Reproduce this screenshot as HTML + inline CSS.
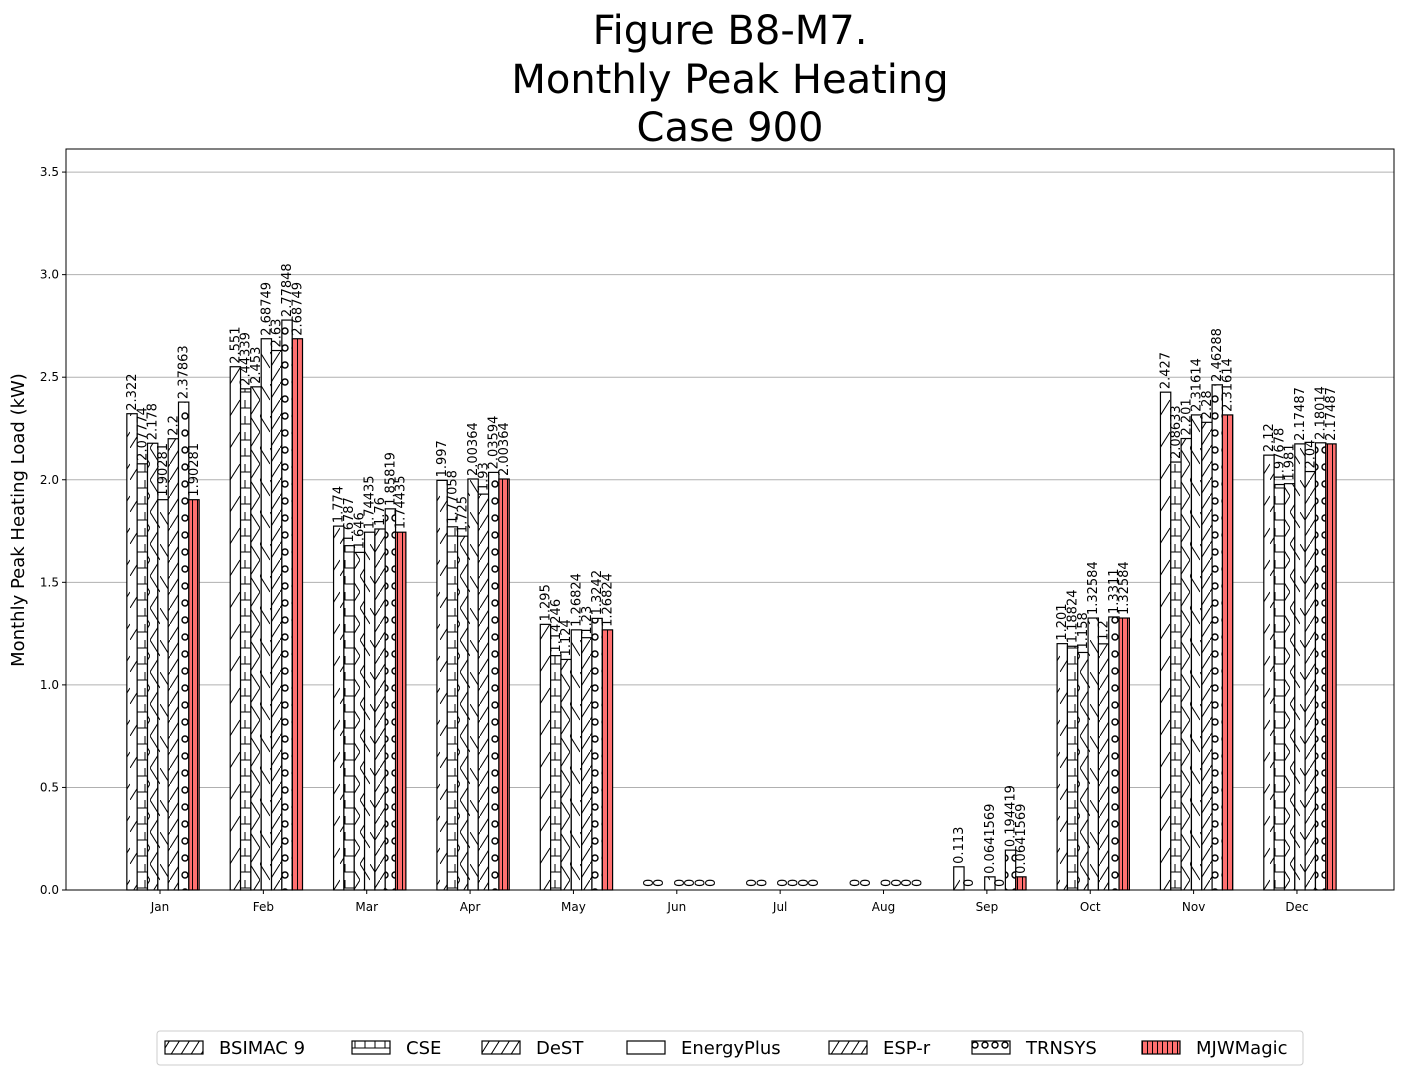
<!DOCTYPE html>
<html><head><meta charset="utf-8"><style>
body{margin:0;background:#fff;font-family:"Liberation Sans","DejaVu Sans",sans-serif;}
svg text{font-family:"DejaVu Sans","Liberation Sans",sans-serif;}
</style></head><body>
<svg id="chart" width="1403" height="1075" xmlns="http://www.w3.org/2000/svg">
<defs>
<pattern id="p0" width="10" height="32" patternUnits="userSpaceOnUse"><path d="M0,32 L10,16" stroke="#000" stroke-width="1"/></pattern>
<pattern id="p1" width="10" height="16" patternUnits="userSpaceOnUse"><path d="M0,8 L10,8 M5,0 L5,8" stroke="#000" stroke-width="1"/></pattern>
<pattern id="p2" width="10" height="32" patternUnits="userSpaceOnUse"><path d="M0,0 L10,16 M10,16 L0,32" stroke="#000" stroke-width="1"/></pattern>
<pattern id="p3" width="10" height="32" patternUnits="userSpaceOnUse"><path d="M0,0 L10,16" stroke="#000" stroke-width="1"/></pattern>
<pattern id="p4" width="10" height="16" patternUnits="userSpaceOnUse"><path d="M0,16 L10,0" stroke="#000" stroke-width="1"/></pattern>
<pattern id="p5" width="10" height="17" patternUnits="userSpaceOnUse"><circle cx="5" cy="8" r="3" fill="none" stroke="#000" stroke-width="1.4"/></pattern>
<pattern id="p6" width="5" height="10" patternUnits="userSpaceOnUse"><rect width="5" height="10" fill="#ff7070"/><path d="M2.5,0 L2.5,10" stroke="#000" stroke-width="1"/></pattern>
</defs>
<text x="730" y="44" font-size="40" text-anchor="middle">Figure B8-M7.</text>
<text x="730" y="93" font-size="40" text-anchor="middle">Monthly Peak Heating</text>
<text x="730" y="141" font-size="40" text-anchor="middle">Case 900</text>
<g id="grid"></g><g id="bars"></g><g id="axes"></g>
<text transform="translate(24,520) rotate(-90)" font-size="18" text-anchor="middle">Monthly Peak Heating Load (kW)</text>
<g id="legend"></g>
</svg>
<script>
const months=["Jan","Feb","Mar","Apr","May","Jun","Jul","Aug","Sep","Oct","Nov","Dec"];
const seriesNames=["BSIMAC 9","CSE","DeST","EnergyPlus","ESP-r","TRNSYS","MJWMagic"];
const bsimac=[2.322,2.551,1.774,1.997,1.295,0,0,0,0.113,1.201,2.427,2.12];
const cse=[2.07774,2.44339,1.6787,1.77058,1.14246,0,0,0,0,1.18824,2.08633,1.97678];
const dest=[2.178,2.453,1.646,1.725,1.124,null,null,null,null,1.158,2.201,1.981];
const eplus=[1.90281,2.68749,1.74435,2.00364,1.26824,0,0,0,0.0641569,1.32584,2.31614,2.17487];
const espr=[2.2,2.63,1.76,1.93,1.23,0,0,0,0,1.2,2.28,2.04];
const trnsys=[2.37863,2.77848,1.85819,2.03594,1.3242,0,0,0,0.194419,1.3311,2.46288,2.18014];
const mjw=[1.90281,2.68749,1.74435,2.00364,1.26824,0,0,0,0.0641569,1.32584,2.31614,2.17487];
const yTicks=[0,0.5,1.0,1.5,2.0,2.5,3.0,3.5];
const series=[bsimac,cse,dest,eplus,espr,trnsys,mjw];
const NS="http://www.w3.org/2000/svg";
const X0=66,X1=1394,Y0=890,Y1=149,YMAX=3.6125;
const y=v=>Y0-(v/YMAX)*(Y0-Y1);
const xc=i=>160+i*103.36;
const bw=10.33;
function mk(t,a,p){const e=document.createElementNS(NS,t);for(const k in a)e.setAttribute(k,a[k]);p.appendChild(e);return e;}
const grid=document.getElementById('grid'),bars=document.getElementById('bars'),axes=document.getElementById('axes');
yTicks.forEach(t=>{
 if(t>0){const l=mk('line',{x1:X0,x2:X1,y1:y(t),y2:y(t),stroke:'#b0b0b0','stroke-width':1},grid);
 
 }
 mk('line',{x1:X0-4,x2:X0,y1:y(t),y2:y(t),stroke:'#000'},axes);
 const tx=mk('text',{x:X0-7,y:y(t)+4,'font-size':12,'text-anchor':'end'},axes);tx.textContent=t.toFixed(1);
 
 
});
months.forEach((m,i)=>{
 mk('line',{x1:xc(i),x2:xc(i),y1:Y0,y2:Y0+4,stroke:'#000'},axes);
 const tx=mk('text',{x:xc(i),y:Y0+21,'font-size':12,'text-anchor':'middle'},axes);tx.textContent=m;
 
 
 series.forEach((s,j)=>{
  const v=s[i];if(v===null)return;
  const x=xc(i)+3-3.5*bw+j*bw;
  if(v>0){
   mk('rect',{x:x,y:y(v),width:bw,height:Y0-y(v),fill:'#fff'},bars);
   const r=mk('rect',{x:x,y:y(v),width:bw,height:Y0-y(v),fill:'url(#p'+j+')',stroke:'#000','stroke-width':1.2},bars);
   
   
  }
  const lx=x+bw/2+4,ly=y(v)-3;
  const t=mk('text',{x:lx,y:ly,'font-size':13,transform:'rotate(-90 '+lx+' '+ly+')'},bars);
  t.textContent=String(v);
  
  
 });
});
mk('rect',{x:X0,y:Y1,width:X1-X0,height:Y0-Y1,fill:'none',stroke:'#000','stroke-width':1},axes);
const lg=document.getElementById('legend');
const box=mk('rect',{x:157,y:1031,width:1146,height:34,fill:'#fff',stroke:'#ccc',rx:3},lg);


const lx=[165,352,482,627,829,972,1142];
seriesNames.forEach((n,j)=>{
 const g=mk('g',{},lg);
 
 
 mk('rect',{x:lx[j],y:1041,width:38,height:13,fill:'#fff'},g);
 mk('rect',{x:lx[j],y:1041,width:38,height:13,fill:'url(#p'+j+')',stroke:'#000','stroke-width':1.2},g);
 const t=mk('text',{x:lx[j]+54,y:1054,'font-size':18},g);t.textContent=n;
});
</script>
</body></html>
